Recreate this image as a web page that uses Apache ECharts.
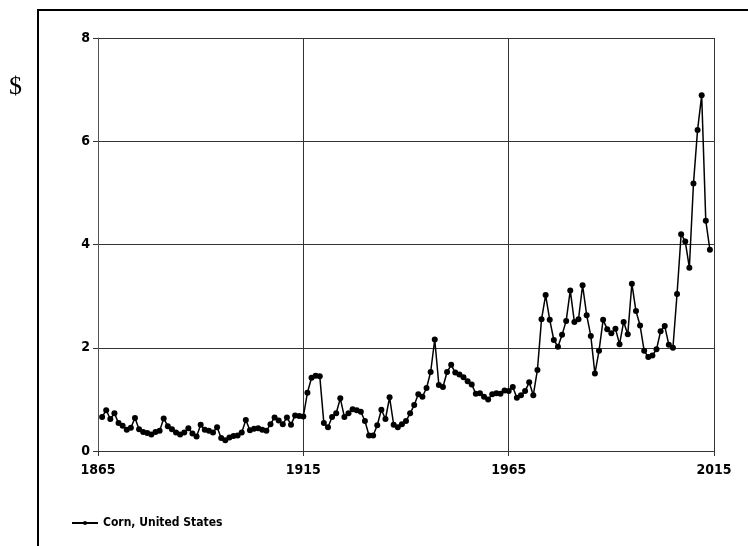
<!DOCTYPE html>
<html>
<head>
<meta charset="utf-8">
<script src="https://cdn.jsdelivr.net/npm/echarts@6/dist/echarts.min.js"></script>
<style>
  html, body { margin: 0; padding: 0; background: #fff; }
  #chart { width: 748px; height: 546px; }
</style>
</head>
<body>
<div id="chart"></div>
<script>
// years shown on the axis start here, so the axis runs 0..150
const BASE_YEAR = 1865
const xTickStep = 50

const years = []
for (let y = 1866; y <= 2014; y++) years.push(y)

// corn price, $ per bushel, 1866 - 2014
const cornPrice = [
  0.66, 0.79, 0.62, 0.73, 0.54, 0.49, 0.41, 0.45, 0.64, 0.42, // 1866-1875
  0.37, 0.35, 0.32, 0.37, 0.39, 0.63, 0.48, 0.42, 0.36, 0.32, // 1876-1885
  0.36, 0.44, 0.34, 0.28, 0.51, 0.41, 0.39, 0.36, 0.46, 0.25, // 1886-1895
  0.21, 0.26, 0.29, 0.30, 0.36, 0.60, 0.40, 0.43, 0.44, 0.41, // 1896-1905
  0.39, 0.52, 0.65, 0.59, 0.52, 0.65, 0.51, 0.69, 0.68, 0.67, // 1906-1915
  1.13, 1.42, 1.46, 1.45, 0.54, 0.46, 0.66, 0.73, 1.02, 0.66, // 1916-1925
  0.73, 0.81, 0.79, 0.76, 0.58, 0.30, 0.30, 0.50, 0.80, 0.62, // 1926-1935
  1.04, 0.51, 0.46, 0.52, 0.58, 0.73, 0.89, 1.10, 1.05, 1.22, // 1936-1945
  1.53, 2.16, 1.28, 1.24, 1.53, 1.67, 1.52, 1.48, 1.43, 1.35, // 1946-1955
  1.29, 1.11, 1.12, 1.05, 1.00, 1.10, 1.12, 1.11, 1.17, 1.16, // 1956-1965
  1.24, 1.03, 1.08, 1.16, 1.33, 1.08, 1.57, 2.55, 3.02, 2.54, // 1966-1975
  2.15, 2.02, 2.25, 2.52, 3.11, 2.50, 2.55, 3.21, 2.63, 2.23, // 1976-1985
  1.50, 1.94, 2.54, 2.36, 2.28, 2.37, 2.07, 2.50, 2.26, 3.24, // 1986-1995
  2.71, 2.43, 1.94, 1.82, 1.85, 1.97, 2.32, 2.42, 2.06, 2.00, // 1996-2005
  3.04, 4.20, 4.06, 3.55, 5.18, 6.22, 6.89, 4.46, 3.90        // 2006-2014
]

const seriesName = 'Corn, United States'

const labelFont = {
  fontFamily: '"Liberation Sans Narrow", "DejaVu Sans Condensed", sans-serif',
  fontWeight: 'bold',
  fontSize: 14,
  color: '#000',
}

const chart = echarts.init(document.getElementById('chart'), null, { renderer: 'canvas' })

const option = {
  animation: false,
  backgroundColor: '#fff',
  grid: {
    left: 98,
    right: 34,
    top: 38,
    bottom: 95,
    containLabel: false,
  },
  legend: {
    left: 66,
    top: 512,
    itemWidth: 26,
    itemHeight: 5,
    itemGap: 4,
    textStyle: { ...labelFont, fontSize: 12 },
    data: [seriesName],
  },
  graphic: [
    {
      // outer frame
      type: 'rect',
      shape: { x: 38, y: 10, width: 720, height: 550 },
      style: { fill: null, stroke: '#000', lineWidth: 2 },
      silent: true,
      z: 0,
    },
    {
      type: 'text',
      left: 9,
      top: 74,
      style: {
        text: '$',
        font: '26px "Liberation Serif", "DejaVu Serif", serif',
        fill: '#000',
      },
    },
  ],
  xAxis: {
    type: 'value',
    min: 0,
    max: 150,
    interval: xTickStep,
    axisLine: { show: true, lineStyle: { color: '#333', width: 1 } },
    axisTick: { show: true, length: 5, lineStyle: { color: '#333' } },
    axisLabel: {
      ...labelFont,
      margin: 12,
      formatter: (v) => String(v + BASE_YEAR),
    },
    splitLine: { show: true, lineStyle: { color: '#333', width: 1 } },
  },
  yAxis: {
    type: 'value',
    min: 0,
    max: 8,
    interval: 2,
    axisLine: { show: true, lineStyle: { color: '#555', width: 1 } },
    axisTick: { show: true, length: 5, lineStyle: { color: '#333' } },
    axisLabel: { ...labelFont, margin: 8 },
    splitLine: { show: true, lineStyle: { color: '#333', width: 1 } },
  },
  series: [
    {
      name: seriesName,
      type: 'line',
      data: years.map((y, i) => [y - BASE_YEAR, cornPrice[i]]),
      symbol: 'circle',
      symbolSize: 6,
      showAllSymbol: true,
      itemStyle: { color: '#000' },
      lineStyle: { color: '#000', width: 1.5 },
      z: 3,
    },
  ],
}

chart.setOption(option)
</script>
</body>
</html>
